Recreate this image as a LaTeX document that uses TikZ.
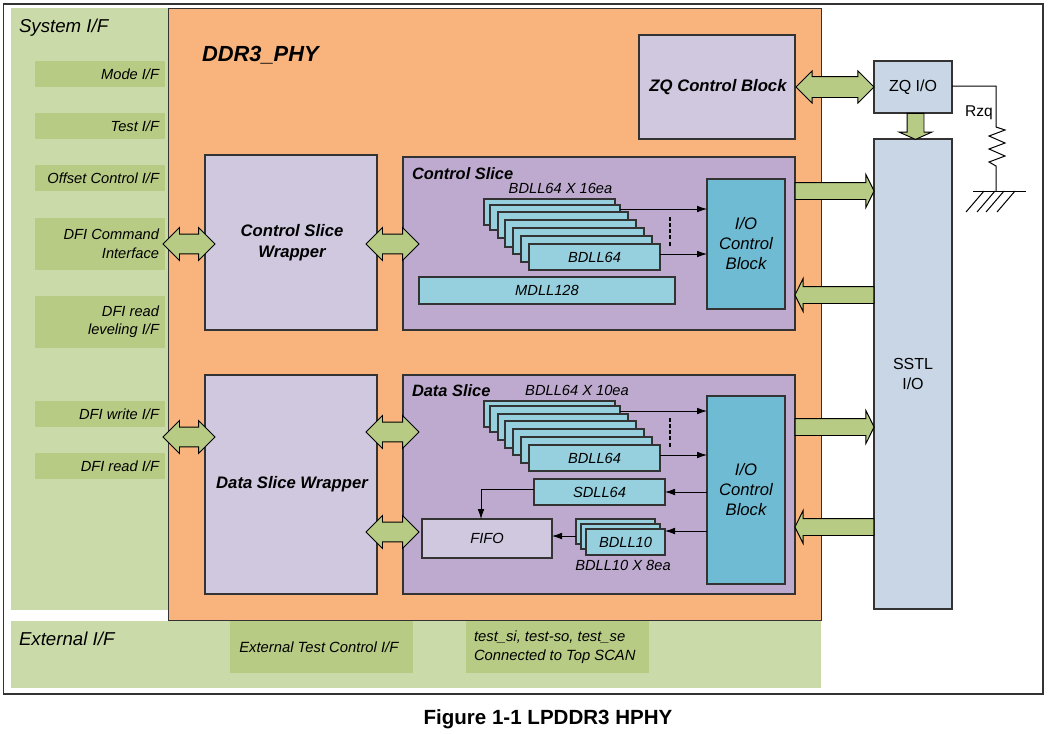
\documentclass[tikz,border=0pt]{standalone}
\usepackage{fontspec}
\setmainfont{Liberation Sans}
\usetikzlibrary{shapes.arrows,arrows.meta}
\definecolor{sysg}{HTML}{CBDAA9}
\definecolor{subg}{HTML}{B7CB84}
\definecolor{oran}{HTML}{F9B47E}
\definecolor{lila}{HTML}{D0C8DF}
\definecolor{purp}{HTML}{BDAACE}
\definecolor{cyan1}{HTML}{96CFDD}
\definecolor{cyan2}{HTML}{6FBBD3}
\definecolor{bluegr}{HTML}{C8D6E6}
\definecolor{edge}{HTML}{333333}
\newcommand\bx[7][]{%
  \pgfmathsetlengthmacro{\bw}{(#5-#3)*0.75pt}%
  \pgfmathsetlengthmacro{\bh}{(#6-#4)*0.75pt}%
  \node[#1,anchor=north west,minimum width=\bw,minimum height=\bh] (#2) at (#3,#4) {#7};}
\newcommand\blockdbl[5][]{% name x1 x2 y
  \pgfmathsetlengthmacro{\bw}{(#4-#3)*0.75pt}%
  \node[dblarrow,#1,minimum height=\bw] (#2) at ({(#3+#4)/2},#5) {};}
\tikzset{
  x=0.75pt,y=-0.75pt,
  box/.style={draw=edge,line width=0.8pt,inner sep=0pt,outer sep=0pt,align=center},
  flat/.style={inner sep=0pt,outer sep=0pt,align=center},
  wrap/.style={box,fill=lila,font=\fontsize{12.5}{15.5}\selectfont\bfseries\itshape},
  slice/.style={box,fill=purp},
  dll/.style={box,fill=cyan1,font=\fontsize{11}{13}\selectfont\itshape},
  iob/.style={box,fill=cyan2,font=\fontsize{12.5}{15}\selectfont\itshape},
  io/.style={box,fill=bluegr,font=\fontsize{12}{15.5}\selectfont},
  ifb/.style={flat,fill=subg,font=\fontsize{11.1}{14}\selectfont\itshape,align=right},
  lab/.style={inner sep=0pt,outer sep=0pt,font=\fontsize{11}{13}\selectfont\itshape},
  dblarrow/.style={double arrow,draw=black,fill=subg,line width=0.7pt,inner sep=7.1pt,outer sep=0pt,
    double arrow head extend=4.9pt},
  bigarrow/.style={single arrow,draw=black,fill=subg,line width=0.7pt,inner sep=6pt,outer sep=0pt,
    single arrow head extend=6pt,single arrow tip angle=127},
  arr/.style={-{Latex[length=7.5pt,width=5pt]},draw=black,line width=0.6pt},
  thin line/.style={draw=black,line width=0.75pt},
}
\begin{document}
\begin{tikzpicture}
\useasboundingbox (0,0) rectangle (1048,733);
\fill[white] (0,0) rectangle (1048,733);
\draw[draw=edge,line width=1.1pt] (3.5,4) rectangle (1043,694);

% interface panels
\bx[flat,fill=sysg]{sys}{11}{8}{168}{610}{}
\bx[flat,fill=sysg]{ext}{11}{621}{821}{688}{}
\bx[box,fill=oran,line width=0.6pt]{phy}{168}{8}{821}{620}{}
\node[lab,font=\fontsize{14}{16}\selectfont\itshape,anchor=base west] (systxt) at (19,32) {System I/F};
\node[lab,font=\fontsize{14}{16}\selectfont\itshape,anchor=base west] (exttxt) at (19,645) {External I/F};
\node[lab,font=\fontsize{16.4}{19}\selectfont\bfseries\itshape,anchor=base west] (phytxt) at (202,61) {DDR3\_PHY};

\newcommand\ifrow[6]{\bx[ifb]{#1}{35}{#2}{165}{#3}{}\node[flat,font=\fontsize{11}{14}\selectfont\itshape,align=right,anchor=east] (#1t) at (159,{(#2+#3)/2-0.2}) {#4};}
\ifrow{mode}{61}{87}{Mode I/F}{}{}
\ifrow{test}{113}{139}{Test I/F}{}{}
\ifrow{offs}{165}{191}{Offset Control I/F}{}{}
\ifrow{dfic}{218}{270}{DFI Command\\Interface}{}{}
\ifrow{dfil}{296}{348}{DFI read\\leveling I/F}{}{}
\ifrow{dfiw}{401}{427}{DFI write I/F}{}{}
\ifrow{dfir}{453}{479}{DFI read I/F}{}{}
\bx[ifb,align=center]{exta}{230}{621}{413}{673}{\hspace*{-4pt}External Test Control I/F}
\bx[flat,fill=subg]{extb}{466}{621}{649}{673}{}
\node[flat,font=\fontsize{11.1}{14}\selectfont\itshape,align=left,anchor=west] (extbt) at (474,647) {test\_si, test-so, test\_se\\Connected to Top SCAN};

% PHY blocks
\bx[wrap]{zqc}{639}{35}{795}{139}{\hspace*{1.5pt}ZQ Control Block}
\bx[wrap]{csw}{205}{155}{377}{330}{\hspace*{1.5pt}Control Slice\\\hspace*{1.5pt}Wrapper}
\bx[wrap]{dsw}{205}{375}{377}{594}{\hspace*{1.5pt}Data Slice Wrapper}
\bx[slice]{cs}{403}{157}{795}{330}{}
\bx[slice]{ds}{403}{375}{795}{594}{}
\node[lab,font=\fontsize{12.3}{14}\selectfont\bfseries\itshape,anchor=base west] (cst) at (412,179) {Control Slice};
\node[lab,font=\fontsize{12.3}{14}\selectfont\bfseries\itshape,anchor=base west] (dst) at (412,396) {Data Slice};
\bx[iob]{cio}{707}{179}{785}{309}{I/O\\Control\\Block}
\bx[iob]{dio}{707}{396}{785}{584}{I/O\\Control\\Block}

% control stack
\node[lab,anchor=base] (cnum) at (560.5,193) {BDLL64 X 16ea};
\bx[dll]{ca}{484}{199}{615}{225}{BDLL64}
\bx[dll]{cb}{490}{205}{620}{230}{BDLL64}
\bx[dll]{cc}{498}{212}{628}{238}{BDLL64}
\bx[dll]{cd}{505}{220}{636}{247}{BDLL64}
\bx[dll]{ce}{513}{228}{644}{254}{BDLL64}
\bx[dll]{cf}{521}{236}{652}{262}{BDLL64}
\bx[dll]{cg}{529}{244}{660}{270}{BDLL64}
\bx[dll]{mdll}{419}{277}{675}{304}{MDLL128}
\draw[arr] (cb.east |- 0,209) -- (cio.west |- 0,209);
\draw[arr] (cg.east |- 0,254) -- (cio.west |- 0,254);
\coordinate (cdota) at (670,217);
\coordinate (cdotb) at (670,247);
\draw[black,line width=1.2pt,dash pattern=on 3pt off 1.6pt] (cdota) -- (cdotb);

% data stack
\node[lab,anchor=base] (dnum) at (577,395) {BDLL64 X 10ea};
\bx[dll]{da}{484}{401}{615}{427}{BDLL64}
\bx[dll]{db}{490}{406}{620}{432}{BDLL64}
\bx[dll]{dc}{498}{414}{628}{440}{BDLL64}
\bx[dll]{dd}{505}{421}{636}{448}{BDLL64}
\bx[dll]{de}{513}{429}{644}{455}{BDLL64}
\bx[dll]{df}{521}{437}{652}{463}{BDLL64}
\bx[dll]{dg}{529}{445}{660}{471}{BDLL64}
\draw[arr] (db.east |- 0,411) -- (dio.west |- 0,411);
\draw[arr] (dg.east |- 0,455) -- (dio.west |- 0,455);
\coordinate (ddota) at (670,418);
\coordinate (ddotb) at (670,448);
\draw[black,line width=1.2pt,dash pattern=on 3pt off 1.6pt] (ddota) -- (ddotb);
\bx[dll]{sdll}{534}{479}{665}{505}{SDLL64}
\bx[box,fill=lila,font=\fontsize{11}{13}\selectfont\itshape]{fifo}{422}{519}{552}{558}{FIFO}
\bx[dll]{ba}{576}{519}{655}{544}{}
\bx[dll]{bb}{581}{524}{660}{549}{}
\bx[dll]{bc}{586}{529}{665}{555}{BDLL10}
\node[lab,anchor=base] (bnum) at (623,570) {BDLL10 X 8ea};
\draw[arr] (dio.west |- 0,492) -- (sdll.east |- 0,492);
\draw[arr] (dio.west |- 0,531) -- (bc.east |- 0,531);
\draw[arr] (ba.west |- 0,536) -- (fifo.east |- 0,536);
\draw[arr] (sdll.west |- 0,489) -| (fifo.north -| 481,0);

% I/O column
\bx[io]{zqio}{874}{61}{952}{113}{ZQ I/O}
\bx[io]{sstl}{874}{139}{952}{609}{SSTL\\I/O}

% block arrows
\blockdbl{a1}{163}{215}{244}
\blockdbl{a2}{163}{215}{437}
\blockdbl{a3}{366}{419}{244}
\blockdbl{a4}{366}{419}{432}
\blockdbl{a5}{366}{419}{532}
\blockdbl[inner sep=7.5pt,double arrow head extend=4.2pt]{a6}{796}{874}{87}
\tikzset{rarrow/.style={bigarrow,minimum height=59.25pt}}
\node[rarrow] (r1) at (832.5,191) {};
\node[rarrow,rotate=180] (r2) at (836.5,295) {};
\node[rarrow] (r3) at (832.5,427) {};
\node[rarrow,rotate=180] (r4) at (836.5,527) {};
\node[bigarrow,rotate=-90,minimum height=19.5pt,single arrow tip angle=132] (r5) at (915.5,124.5) {};

% Rzq
\node[inner sep=0pt,font=\fontsize{11.7}{14}\selectfont] (rzq) at (979,113) {Rzq};
\coordinate (gnd) at (996,191);
\coordinate (rtop) at (996,127);
\coordinate (rbot) at (996,166);
\draw[thin line] (zqio.east |- 0,86) -| (rtop) -- (1005,130) -- (989,136) -- (1005,143) -- (989,149) -- (1005,156) -- (989,162) -- (rbot) -- (gnd);
\coordinate (gl) at (973,191);
\coordinate (gr) at (1026,191);
\draw[thin line] (gl) -- (gr);
\foreach \xb in {966,977,986,997} \draw[thin line] (\xb,212) -- (\xb+18,191);

\node[inner sep=0pt,font=\fontsize{15.4}{18}\selectfont\bfseries,anchor=base] (cap) at (548,724) {Figure 1-1 LPDDR3 HPHY};
\end{tikzpicture}
\end{document}
